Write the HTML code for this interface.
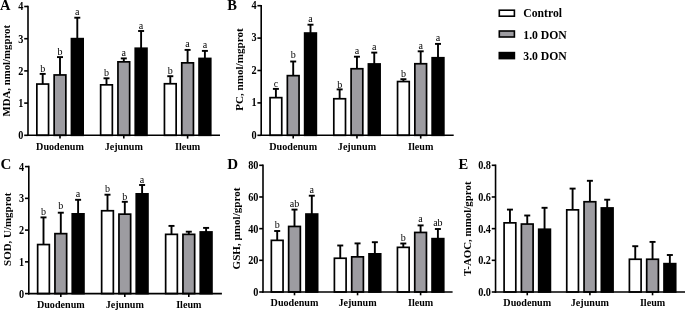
<!DOCTYPE html>
<html><head><meta charset="utf-8"><style>
html,body{margin:0;padding:0;background:#fff;}
svg{display:block;will-change:transform;}
text{font-family:"Liberation Serif",serif;fill:#000;}
</style></head><body>
<svg width="685" height="311" viewBox="0 0 685 311">
<rect width="685" height="311" fill="#fff"/>
<line x1="42.70" y1="84.20" x2="42.70" y2="73.90" stroke="#000" stroke-width="1.9"/>
<line x1="39.70" y1="73.90" x2="45.70" y2="73.90" stroke="#000" stroke-width="1.9"/>
<rect x="36.85" y="84.05" width="11.70" height="51.25" fill="#fff" stroke="#000" stroke-width="1.7"/>
<text x="42.70" y="72.30" font-size="10" font-weight="normal" text-anchor="middle" >b</text>
<line x1="60.00" y1="75.10" x2="60.00" y2="57.10" stroke="#000" stroke-width="1.9"/>
<line x1="57.00" y1="57.10" x2="63.00" y2="57.10" stroke="#000" stroke-width="1.9"/>
<rect x="54.15" y="74.95" width="11.70" height="60.35" fill="#9d9ca1" stroke="#000" stroke-width="1.7"/>
<text x="60.00" y="54.80" font-size="10" font-weight="normal" text-anchor="middle" >b</text>
<line x1="77.30" y1="38.80" x2="77.30" y2="17.70" stroke="#000" stroke-width="1.9"/>
<line x1="74.30" y1="17.70" x2="80.30" y2="17.70" stroke="#000" stroke-width="1.9"/>
<rect x="71.45" y="38.65" width="11.70" height="96.65" fill="#000" stroke="#000" stroke-width="1.7"/>
<text x="77.30" y="14.60" font-size="10" font-weight="normal" text-anchor="middle" >a</text>
<line x1="60.00" y1="135.30" x2="60.00" y2="138.60" stroke="#000" stroke-width="1.6"/>
<text x="60.00" y="149.90" font-size="10.15" font-weight="bold" text-anchor="middle" >Duodenum</text>
<line x1="106.50" y1="85.00" x2="106.50" y2="78.30" stroke="#000" stroke-width="1.9"/>
<line x1="103.50" y1="78.30" x2="109.50" y2="78.30" stroke="#000" stroke-width="1.9"/>
<rect x="100.65" y="84.85" width="11.70" height="50.45" fill="#fff" stroke="#000" stroke-width="1.7"/>
<text x="106.50" y="76.20" font-size="10" font-weight="normal" text-anchor="middle" >b</text>
<line x1="123.80" y1="62.00" x2="123.80" y2="58.40" stroke="#000" stroke-width="1.9"/>
<line x1="120.80" y1="58.40" x2="126.80" y2="58.40" stroke="#000" stroke-width="1.9"/>
<rect x="117.95" y="61.85" width="11.70" height="73.45" fill="#9d9ca1" stroke="#000" stroke-width="1.7"/>
<text x="123.80" y="55.80" font-size="10" font-weight="normal" text-anchor="middle" >a</text>
<line x1="141.10" y1="48.40" x2="141.10" y2="31.00" stroke="#000" stroke-width="1.9"/>
<line x1="138.10" y1="31.00" x2="144.10" y2="31.00" stroke="#000" stroke-width="1.9"/>
<rect x="135.25" y="48.25" width="11.70" height="87.05" fill="#000" stroke="#000" stroke-width="1.7"/>
<text x="141.10" y="29.20" font-size="10" font-weight="normal" text-anchor="middle" >a</text>
<line x1="123.80" y1="135.30" x2="123.80" y2="138.60" stroke="#000" stroke-width="1.6"/>
<text x="123.80" y="149.90" font-size="10.15" font-weight="bold" text-anchor="middle" >Jejunum</text>
<line x1="170.30" y1="83.90" x2="170.30" y2="76.20" stroke="#000" stroke-width="1.9"/>
<line x1="167.30" y1="76.20" x2="173.30" y2="76.20" stroke="#000" stroke-width="1.9"/>
<rect x="164.45" y="83.75" width="11.70" height="51.55" fill="#fff" stroke="#000" stroke-width="1.7"/>
<text x="170.30" y="73.60" font-size="10" font-weight="normal" text-anchor="middle" >b</text>
<line x1="187.60" y1="63.00" x2="187.60" y2="49.90" stroke="#000" stroke-width="1.9"/>
<line x1="184.60" y1="49.90" x2="190.60" y2="49.90" stroke="#000" stroke-width="1.9"/>
<rect x="181.75" y="62.85" width="11.70" height="72.45" fill="#9d9ca1" stroke="#000" stroke-width="1.7"/>
<text x="187.60" y="47.30" font-size="10" font-weight="normal" text-anchor="middle" >a</text>
<line x1="204.90" y1="58.60" x2="204.90" y2="50.90" stroke="#000" stroke-width="1.9"/>
<line x1="201.90" y1="50.90" x2="207.90" y2="50.90" stroke="#000" stroke-width="1.9"/>
<rect x="199.05" y="58.45" width="11.70" height="76.85" fill="#000" stroke="#000" stroke-width="1.7"/>
<text x="204.90" y="48.30" font-size="10" font-weight="normal" text-anchor="middle" >a</text>
<line x1="187.60" y1="135.30" x2="187.60" y2="138.60" stroke="#000" stroke-width="1.6"/>
<text x="187.60" y="149.90" font-size="10.15" font-weight="bold" text-anchor="middle" >Ileum</text>
<line x1="28.00" y1="5.70" x2="28.00" y2="136.10" stroke="#000" stroke-width="1.6"/>
<line x1="27.20" y1="135.30" x2="220.00" y2="135.30" stroke="#000" stroke-width="1.6"/>
<line x1="24.20" y1="135.30" x2="28.00" y2="135.30" stroke="#000" stroke-width="1.6"/>
<text transform="translate(23.40 139.20) scale(0.96 1.09)" font-size="10.7" font-weight="bold" text-anchor="end">0</text>
<line x1="24.20" y1="103.10" x2="28.00" y2="103.10" stroke="#000" stroke-width="1.6"/>
<text transform="translate(23.40 107.00) scale(0.96 1.09)" font-size="10.7" font-weight="bold" text-anchor="end">1</text>
<line x1="24.20" y1="70.90" x2="28.00" y2="70.90" stroke="#000" stroke-width="1.6"/>
<text transform="translate(23.40 74.80) scale(0.96 1.09)" font-size="10.7" font-weight="bold" text-anchor="end">2</text>
<line x1="24.20" y1="38.70" x2="28.00" y2="38.70" stroke="#000" stroke-width="1.6"/>
<text transform="translate(23.40 42.60) scale(0.96 1.09)" font-size="10.7" font-weight="bold" text-anchor="end">3</text>
<line x1="24.20" y1="6.50" x2="28.00" y2="6.50" stroke="#000" stroke-width="1.6"/>
<text transform="translate(23.40 10.40) scale(0.96 1.09)" font-size="10.7" font-weight="bold" text-anchor="end">4</text>
<text x="10.00" y="70.70" font-size="10.8" font-weight="bold" text-anchor="middle" transform="rotate(-90 10.00 70.70)">MDA, nmol/mgprot</text>
<text x="0.10" y="10.45" font-size="14.5" font-weight="bold" text-anchor="start" >A</text>
<line x1="275.90" y1="97.80" x2="275.90" y2="88.90" stroke="#000" stroke-width="1.9"/>
<line x1="272.90" y1="88.90" x2="278.90" y2="88.90" stroke="#000" stroke-width="1.9"/>
<rect x="270.05" y="97.65" width="11.70" height="37.65" fill="#fff" stroke="#000" stroke-width="1.7"/>
<text x="275.90" y="86.80" font-size="10" font-weight="normal" text-anchor="middle" >c</text>
<line x1="293.20" y1="75.80" x2="293.20" y2="61.50" stroke="#000" stroke-width="1.9"/>
<line x1="290.20" y1="61.50" x2="296.20" y2="61.50" stroke="#000" stroke-width="1.9"/>
<rect x="287.35" y="75.65" width="11.70" height="59.65" fill="#9d9ca1" stroke="#000" stroke-width="1.7"/>
<text x="293.20" y="58.00" font-size="10" font-weight="normal" text-anchor="middle" >b</text>
<line x1="310.50" y1="33.20" x2="310.50" y2="24.70" stroke="#000" stroke-width="1.9"/>
<line x1="307.50" y1="24.70" x2="313.50" y2="24.70" stroke="#000" stroke-width="1.9"/>
<rect x="304.65" y="33.05" width="11.70" height="102.25" fill="#000" stroke="#000" stroke-width="1.7"/>
<text x="310.50" y="21.70" font-size="10" font-weight="normal" text-anchor="middle" >a</text>
<line x1="293.20" y1="135.30" x2="293.20" y2="138.60" stroke="#000" stroke-width="1.6"/>
<text x="293.20" y="149.90" font-size="10.15" font-weight="bold" text-anchor="middle" >Duodenum</text>
<line x1="339.65" y1="98.90" x2="339.65" y2="89.40" stroke="#000" stroke-width="1.9"/>
<line x1="336.65" y1="89.40" x2="342.65" y2="89.40" stroke="#000" stroke-width="1.9"/>
<rect x="333.80" y="98.75" width="11.70" height="36.55" fill="#fff" stroke="#000" stroke-width="1.7"/>
<text x="339.65" y="87.70" font-size="10" font-weight="normal" text-anchor="middle" >b</text>
<line x1="356.95" y1="68.90" x2="356.95" y2="56.70" stroke="#000" stroke-width="1.9"/>
<line x1="353.95" y1="56.70" x2="359.95" y2="56.70" stroke="#000" stroke-width="1.9"/>
<rect x="351.10" y="68.75" width="11.70" height="66.55" fill="#9d9ca1" stroke="#000" stroke-width="1.7"/>
<text x="356.95" y="54.10" font-size="10" font-weight="normal" text-anchor="middle" >a</text>
<line x1="374.25" y1="64.10" x2="374.25" y2="52.60" stroke="#000" stroke-width="1.9"/>
<line x1="371.25" y1="52.60" x2="377.25" y2="52.60" stroke="#000" stroke-width="1.9"/>
<rect x="368.40" y="63.95" width="11.70" height="71.35" fill="#000" stroke="#000" stroke-width="1.7"/>
<text x="374.25" y="50.00" font-size="10" font-weight="normal" text-anchor="middle" >a</text>
<line x1="356.95" y1="135.30" x2="356.95" y2="138.60" stroke="#000" stroke-width="1.6"/>
<text x="356.95" y="149.90" font-size="10.15" font-weight="bold" text-anchor="middle" >Jejunum</text>
<line x1="403.40" y1="81.70" x2="403.40" y2="79.20" stroke="#000" stroke-width="1.9"/>
<line x1="400.40" y1="79.20" x2="406.40" y2="79.20" stroke="#000" stroke-width="1.9"/>
<rect x="397.55" y="81.55" width="11.70" height="53.75" fill="#fff" stroke="#000" stroke-width="1.7"/>
<text x="403.40" y="76.60" font-size="10" font-weight="normal" text-anchor="middle" >b</text>
<line x1="420.70" y1="63.90" x2="420.70" y2="51.30" stroke="#000" stroke-width="1.9"/>
<line x1="417.70" y1="51.30" x2="423.70" y2="51.30" stroke="#000" stroke-width="1.9"/>
<rect x="414.85" y="63.75" width="11.70" height="71.55" fill="#9d9ca1" stroke="#000" stroke-width="1.7"/>
<text x="420.70" y="48.70" font-size="10" font-weight="normal" text-anchor="middle" >a</text>
<line x1="438.00" y1="57.90" x2="438.00" y2="43.90" stroke="#000" stroke-width="1.9"/>
<line x1="435.00" y1="43.90" x2="441.00" y2="43.90" stroke="#000" stroke-width="1.9"/>
<rect x="432.15" y="57.75" width="11.70" height="77.55" fill="#000" stroke="#000" stroke-width="1.7"/>
<text x="438.00" y="41.30" font-size="10" font-weight="normal" text-anchor="middle" >a</text>
<line x1="420.70" y1="135.30" x2="420.70" y2="138.60" stroke="#000" stroke-width="1.6"/>
<text x="420.70" y="149.90" font-size="10.15" font-weight="bold" text-anchor="middle" >Ileum</text>
<line x1="261.20" y1="4.90" x2="261.20" y2="136.10" stroke="#000" stroke-width="1.6"/>
<line x1="260.40" y1="135.30" x2="453.70" y2="135.30" stroke="#000" stroke-width="1.6"/>
<line x1="257.40" y1="135.30" x2="261.20" y2="135.30" stroke="#000" stroke-width="1.6"/>
<text transform="translate(256.60 138.60) scale(0.96 1.09)" font-size="10.7" font-weight="bold" text-anchor="end">0</text>
<line x1="257.40" y1="102.90" x2="261.20" y2="102.90" stroke="#000" stroke-width="1.6"/>
<text transform="translate(256.60 106.20) scale(0.96 1.09)" font-size="10.7" font-weight="bold" text-anchor="end">1</text>
<line x1="257.40" y1="70.50" x2="261.20" y2="70.50" stroke="#000" stroke-width="1.6"/>
<text transform="translate(256.60 73.80) scale(0.96 1.09)" font-size="10.7" font-weight="bold" text-anchor="end">2</text>
<line x1="257.40" y1="38.10" x2="261.20" y2="38.10" stroke="#000" stroke-width="1.6"/>
<text transform="translate(256.60 41.40) scale(0.96 1.09)" font-size="10.7" font-weight="bold" text-anchor="end">3</text>
<line x1="257.40" y1="5.70" x2="261.20" y2="5.70" stroke="#000" stroke-width="1.6"/>
<text transform="translate(256.60 9.00) scale(0.96 1.09)" font-size="10.7" font-weight="bold" text-anchor="end">4</text>
<text x="243.00" y="69.55" font-size="11.1" font-weight="bold" text-anchor="middle" transform="rotate(-90 243.00 69.55)">PC, nmol/mgprot</text>
<text x="227.30" y="10.10" font-size="14.5" font-weight="bold" text-anchor="start" >B</text>
<line x1="43.50" y1="244.70" x2="43.50" y2="217.40" stroke="#000" stroke-width="1.9"/>
<line x1="40.50" y1="217.40" x2="46.50" y2="217.40" stroke="#000" stroke-width="1.9"/>
<rect x="37.65" y="244.55" width="11.70" height="49.05" fill="#fff" stroke="#000" stroke-width="1.7"/>
<text x="43.50" y="214.80" font-size="10" font-weight="normal" text-anchor="middle" >b</text>
<line x1="60.80" y1="233.80" x2="60.80" y2="212.70" stroke="#000" stroke-width="1.9"/>
<line x1="57.80" y1="212.70" x2="63.80" y2="212.70" stroke="#000" stroke-width="1.9"/>
<rect x="54.95" y="233.65" width="11.70" height="59.95" fill="#9d9ca1" stroke="#000" stroke-width="1.7"/>
<text x="60.80" y="209.20" font-size="10" font-weight="normal" text-anchor="middle" >b</text>
<line x1="78.10" y1="214.00" x2="78.10" y2="199.80" stroke="#000" stroke-width="1.9"/>
<line x1="75.10" y1="199.80" x2="81.10" y2="199.80" stroke="#000" stroke-width="1.9"/>
<rect x="72.25" y="213.85" width="11.70" height="79.75" fill="#000" stroke="#000" stroke-width="1.7"/>
<text x="78.10" y="197.20" font-size="10" font-weight="normal" text-anchor="middle" >a</text>
<line x1="60.80" y1="293.60" x2="60.80" y2="296.90" stroke="#000" stroke-width="1.6"/>
<text x="60.80" y="308.20" font-size="10.15" font-weight="bold" text-anchor="middle" >Duodenum</text>
<line x1="107.50" y1="210.90" x2="107.50" y2="194.70" stroke="#000" stroke-width="1.9"/>
<line x1="104.50" y1="194.70" x2="110.50" y2="194.70" stroke="#000" stroke-width="1.9"/>
<rect x="101.65" y="210.75" width="11.70" height="82.85" fill="#fff" stroke="#000" stroke-width="1.7"/>
<text x="107.50" y="192.10" font-size="10" font-weight="normal" text-anchor="middle" >b</text>
<line x1="124.80" y1="214.30" x2="124.80" y2="201.80" stroke="#000" stroke-width="1.9"/>
<line x1="121.80" y1="201.80" x2="127.80" y2="201.80" stroke="#000" stroke-width="1.9"/>
<rect x="118.95" y="214.15" width="11.70" height="79.45" fill="#9d9ca1" stroke="#000" stroke-width="1.7"/>
<text x="124.80" y="199.70" font-size="10" font-weight="normal" text-anchor="middle" >b</text>
<line x1="142.10" y1="194.00" x2="142.10" y2="185.00" stroke="#000" stroke-width="1.9"/>
<line x1="139.10" y1="185.00" x2="145.10" y2="185.00" stroke="#000" stroke-width="1.9"/>
<rect x="136.25" y="193.85" width="11.70" height="99.75" fill="#000" stroke="#000" stroke-width="1.7"/>
<text x="142.10" y="182.80" font-size="10" font-weight="normal" text-anchor="middle" >a</text>
<line x1="124.80" y1="293.60" x2="124.80" y2="296.90" stroke="#000" stroke-width="1.6"/>
<text x="124.80" y="308.20" font-size="10.15" font-weight="bold" text-anchor="middle" >Jejunum</text>
<line x1="171.50" y1="234.50" x2="171.50" y2="225.90" stroke="#000" stroke-width="1.9"/>
<line x1="168.50" y1="225.90" x2="174.50" y2="225.90" stroke="#000" stroke-width="1.9"/>
<rect x="165.65" y="234.35" width="11.70" height="59.25" fill="#fff" stroke="#000" stroke-width="1.7"/>
<line x1="188.80" y1="234.50" x2="188.80" y2="231.70" stroke="#000" stroke-width="1.9"/>
<line x1="185.80" y1="231.70" x2="191.80" y2="231.70" stroke="#000" stroke-width="1.9"/>
<rect x="182.95" y="234.35" width="11.70" height="59.25" fill="#9d9ca1" stroke="#000" stroke-width="1.7"/>
<line x1="206.10" y1="232.10" x2="206.10" y2="227.90" stroke="#000" stroke-width="1.9"/>
<line x1="203.10" y1="227.90" x2="209.10" y2="227.90" stroke="#000" stroke-width="1.9"/>
<rect x="200.25" y="231.95" width="11.70" height="61.65" fill="#000" stroke="#000" stroke-width="1.7"/>
<line x1="188.80" y1="293.60" x2="188.80" y2="296.90" stroke="#000" stroke-width="1.6"/>
<text x="188.80" y="308.20" font-size="10.15" font-weight="bold" text-anchor="middle" >Ileum</text>
<line x1="28.80" y1="165.80" x2="28.80" y2="294.40" stroke="#000" stroke-width="1.6"/>
<line x1="28.00" y1="293.60" x2="221.90" y2="293.60" stroke="#000" stroke-width="1.6"/>
<line x1="25.00" y1="293.60" x2="28.80" y2="293.60" stroke="#000" stroke-width="1.6"/>
<text transform="translate(24.20 297.50) scale(0.96 1.09)" font-size="10.7" font-weight="bold" text-anchor="end">0</text>
<line x1="25.00" y1="261.85" x2="28.80" y2="261.85" stroke="#000" stroke-width="1.6"/>
<text transform="translate(24.20 265.75) scale(0.96 1.09)" font-size="10.7" font-weight="bold" text-anchor="end">1</text>
<line x1="25.00" y1="230.10" x2="28.80" y2="230.10" stroke="#000" stroke-width="1.6"/>
<text transform="translate(24.20 234.00) scale(0.96 1.09)" font-size="10.7" font-weight="bold" text-anchor="end">2</text>
<line x1="25.00" y1="198.35" x2="28.80" y2="198.35" stroke="#000" stroke-width="1.6"/>
<text transform="translate(24.20 202.25) scale(0.96 1.09)" font-size="10.7" font-weight="bold" text-anchor="end">3</text>
<line x1="25.00" y1="166.60" x2="28.80" y2="166.60" stroke="#000" stroke-width="1.6"/>
<text transform="translate(24.20 170.50) scale(0.96 1.09)" font-size="10.7" font-weight="bold" text-anchor="end">4</text>
<text x="10.80" y="229.25" font-size="10.95" font-weight="bold" text-anchor="middle" transform="rotate(-90 10.80 229.25)">SOD, U/mgprot</text>
<text x="0.50" y="168.70" font-size="15" font-weight="bold" text-anchor="start" >C</text>
<line x1="277.20" y1="240.50" x2="277.20" y2="231.00" stroke="#000" stroke-width="1.9"/>
<line x1="274.20" y1="231.00" x2="280.20" y2="231.00" stroke="#000" stroke-width="1.9"/>
<rect x="271.35" y="240.35" width="11.70" height="51.65" fill="#fff" stroke="#000" stroke-width="1.7"/>
<text x="277.20" y="228.40" font-size="10" font-weight="normal" text-anchor="middle" >b</text>
<line x1="294.50" y1="226.60" x2="294.50" y2="209.60" stroke="#000" stroke-width="1.9"/>
<line x1="291.50" y1="209.60" x2="297.50" y2="209.60" stroke="#000" stroke-width="1.9"/>
<rect x="288.65" y="226.45" width="11.70" height="65.55" fill="#9d9ca1" stroke="#000" stroke-width="1.7"/>
<text x="294.50" y="207.00" font-size="10" font-weight="normal" text-anchor="middle" >ab</text>
<line x1="311.80" y1="214.20" x2="311.80" y2="195.70" stroke="#000" stroke-width="1.9"/>
<line x1="308.80" y1="195.70" x2="314.80" y2="195.70" stroke="#000" stroke-width="1.9"/>
<rect x="305.95" y="214.05" width="11.70" height="77.95" fill="#000" stroke="#000" stroke-width="1.7"/>
<text x="311.80" y="193.10" font-size="10" font-weight="normal" text-anchor="middle" >a</text>
<line x1="294.50" y1="292.00" x2="294.50" y2="295.30" stroke="#000" stroke-width="1.6"/>
<text x="294.50" y="306.30" font-size="10.15" font-weight="bold" text-anchor="middle" >Duodenum</text>
<line x1="340.25" y1="258.40" x2="340.25" y2="245.50" stroke="#000" stroke-width="1.9"/>
<line x1="337.25" y1="245.50" x2="343.25" y2="245.50" stroke="#000" stroke-width="1.9"/>
<rect x="334.40" y="258.25" width="11.70" height="33.75" fill="#fff" stroke="#000" stroke-width="1.7"/>
<line x1="357.55" y1="257.00" x2="357.55" y2="243.40" stroke="#000" stroke-width="1.9"/>
<line x1="354.55" y1="243.40" x2="360.55" y2="243.40" stroke="#000" stroke-width="1.9"/>
<rect x="351.70" y="256.85" width="11.70" height="35.15" fill="#9d9ca1" stroke="#000" stroke-width="1.7"/>
<line x1="374.85" y1="254.00" x2="374.85" y2="242.20" stroke="#000" stroke-width="1.9"/>
<line x1="371.85" y1="242.20" x2="377.85" y2="242.20" stroke="#000" stroke-width="1.9"/>
<rect x="369.00" y="253.85" width="11.70" height="38.15" fill="#000" stroke="#000" stroke-width="1.7"/>
<line x1="357.55" y1="292.00" x2="357.55" y2="295.30" stroke="#000" stroke-width="1.6"/>
<text x="357.55" y="306.30" font-size="10.15" font-weight="bold" text-anchor="middle" >Jejunum</text>
<line x1="403.30" y1="247.50" x2="403.30" y2="243.50" stroke="#000" stroke-width="1.9"/>
<line x1="400.30" y1="243.50" x2="406.30" y2="243.50" stroke="#000" stroke-width="1.9"/>
<rect x="397.45" y="247.35" width="11.70" height="44.65" fill="#fff" stroke="#000" stroke-width="1.7"/>
<text x="403.30" y="241.00" font-size="10" font-weight="normal" text-anchor="middle" >b</text>
<line x1="420.60" y1="232.60" x2="420.60" y2="225.40" stroke="#000" stroke-width="1.9"/>
<line x1="417.60" y1="225.40" x2="423.60" y2="225.40" stroke="#000" stroke-width="1.9"/>
<rect x="414.75" y="232.45" width="11.70" height="59.55" fill="#9d9ca1" stroke="#000" stroke-width="1.7"/>
<text x="420.60" y="221.50" font-size="10" font-weight="normal" text-anchor="middle" >a</text>
<line x1="437.90" y1="238.80" x2="437.90" y2="229.00" stroke="#000" stroke-width="1.9"/>
<line x1="434.90" y1="229.00" x2="440.90" y2="229.00" stroke="#000" stroke-width="1.9"/>
<rect x="432.05" y="238.65" width="11.70" height="53.35" fill="#000" stroke="#000" stroke-width="1.7"/>
<text x="437.90" y="225.50" font-size="10" font-weight="normal" text-anchor="middle" >ab</text>
<line x1="420.60" y1="292.00" x2="420.60" y2="295.30" stroke="#000" stroke-width="1.6"/>
<text x="420.60" y="306.30" font-size="10.15" font-weight="bold" text-anchor="middle" >Ileum</text>
<line x1="263.00" y1="164.50" x2="263.00" y2="292.80" stroke="#000" stroke-width="1.6"/>
<line x1="262.20" y1="292.00" x2="452.60" y2="292.00" stroke="#000" stroke-width="1.6"/>
<line x1="259.20" y1="292.00" x2="263.00" y2="292.00" stroke="#000" stroke-width="1.6"/>
<text transform="translate(258.40 295.90) scale(0.96 1.09)" font-size="10.7" font-weight="bold" text-anchor="end">0</text>
<line x1="259.20" y1="260.32" x2="263.00" y2="260.32" stroke="#000" stroke-width="1.6"/>
<text transform="translate(258.40 264.22) scale(0.96 1.09)" font-size="10.7" font-weight="bold" text-anchor="end">20</text>
<line x1="259.20" y1="228.65" x2="263.00" y2="228.65" stroke="#000" stroke-width="1.6"/>
<text transform="translate(258.40 232.55) scale(0.96 1.09)" font-size="10.7" font-weight="bold" text-anchor="end">40</text>
<line x1="259.20" y1="196.98" x2="263.00" y2="196.98" stroke="#000" stroke-width="1.6"/>
<text transform="translate(258.40 200.88) scale(0.96 1.09)" font-size="10.7" font-weight="bold" text-anchor="end">60</text>
<line x1="259.20" y1="165.30" x2="263.00" y2="165.30" stroke="#000" stroke-width="1.6"/>
<text transform="translate(258.40 169.20) scale(0.96 1.09)" font-size="10.7" font-weight="bold" text-anchor="end">80</text>
<text x="240.00" y="228.55" font-size="11.1" font-weight="bold" text-anchor="middle" transform="rotate(-90 240.00 228.55)">GSH, μmol/gprot</text>
<text x="227.20" y="168.60" font-size="15" font-weight="bold" text-anchor="start" >D</text>
<line x1="509.95" y1="223.00" x2="509.95" y2="209.60" stroke="#000" stroke-width="1.9"/>
<line x1="506.95" y1="209.60" x2="512.95" y2="209.60" stroke="#000" stroke-width="1.9"/>
<rect x="504.10" y="222.85" width="11.70" height="69.15" fill="#fff" stroke="#000" stroke-width="1.7"/>
<line x1="527.25" y1="224.20" x2="527.25" y2="215.50" stroke="#000" stroke-width="1.9"/>
<line x1="524.25" y1="215.50" x2="530.25" y2="215.50" stroke="#000" stroke-width="1.9"/>
<rect x="521.40" y="224.05" width="11.70" height="67.95" fill="#9d9ca1" stroke="#000" stroke-width="1.7"/>
<line x1="544.55" y1="229.40" x2="544.55" y2="207.80" stroke="#000" stroke-width="1.9"/>
<line x1="541.55" y1="207.80" x2="547.55" y2="207.80" stroke="#000" stroke-width="1.9"/>
<rect x="538.70" y="229.25" width="11.70" height="62.75" fill="#000" stroke="#000" stroke-width="1.7"/>
<line x1="527.25" y1="292.00" x2="527.25" y2="295.30" stroke="#000" stroke-width="1.6"/>
<text x="527.25" y="306.00" font-size="10.15" font-weight="bold" text-anchor="middle" >Duodenum</text>
<line x1="572.60" y1="210.00" x2="572.60" y2="188.60" stroke="#000" stroke-width="1.9"/>
<line x1="569.60" y1="188.60" x2="575.60" y2="188.60" stroke="#000" stroke-width="1.9"/>
<rect x="566.75" y="209.85" width="11.70" height="82.15" fill="#fff" stroke="#000" stroke-width="1.7"/>
<line x1="589.90" y1="201.90" x2="589.90" y2="180.80" stroke="#000" stroke-width="1.9"/>
<line x1="586.90" y1="180.80" x2="592.90" y2="180.80" stroke="#000" stroke-width="1.9"/>
<rect x="584.05" y="201.75" width="11.70" height="90.25" fill="#9d9ca1" stroke="#000" stroke-width="1.7"/>
<line x1="607.20" y1="208.10" x2="607.20" y2="199.70" stroke="#000" stroke-width="1.9"/>
<line x1="604.20" y1="199.70" x2="610.20" y2="199.70" stroke="#000" stroke-width="1.9"/>
<rect x="601.35" y="207.95" width="11.70" height="84.05" fill="#000" stroke="#000" stroke-width="1.7"/>
<line x1="589.90" y1="292.00" x2="589.90" y2="295.30" stroke="#000" stroke-width="1.6"/>
<text x="589.90" y="306.00" font-size="10.15" font-weight="bold" text-anchor="middle" >Jejunum</text>
<line x1="635.25" y1="259.40" x2="635.25" y2="246.20" stroke="#000" stroke-width="1.9"/>
<line x1="632.25" y1="246.20" x2="638.25" y2="246.20" stroke="#000" stroke-width="1.9"/>
<rect x="629.40" y="259.25" width="11.70" height="32.75" fill="#fff" stroke="#000" stroke-width="1.7"/>
<line x1="652.55" y1="259.40" x2="652.55" y2="241.90" stroke="#000" stroke-width="1.9"/>
<line x1="649.55" y1="241.90" x2="655.55" y2="241.90" stroke="#000" stroke-width="1.9"/>
<rect x="646.70" y="259.25" width="11.70" height="32.75" fill="#9d9ca1" stroke="#000" stroke-width="1.7"/>
<line x1="669.85" y1="263.80" x2="669.85" y2="255.00" stroke="#000" stroke-width="1.9"/>
<line x1="666.85" y1="255.00" x2="672.85" y2="255.00" stroke="#000" stroke-width="1.9"/>
<rect x="664.00" y="263.65" width="11.70" height="28.35" fill="#000" stroke="#000" stroke-width="1.7"/>
<line x1="652.55" y1="292.00" x2="652.55" y2="295.30" stroke="#000" stroke-width="1.6"/>
<text x="652.55" y="306.00" font-size="10.15" font-weight="bold" text-anchor="middle" >Ileum</text>
<line x1="495.55" y1="164.50" x2="495.55" y2="292.80" stroke="#000" stroke-width="1.6"/>
<line x1="494.75" y1="292.00" x2="685.55" y2="292.00" stroke="#000" stroke-width="1.6"/>
<line x1="491.75" y1="292.00" x2="495.55" y2="292.00" stroke="#000" stroke-width="1.6"/>
<text transform="translate(490.95 295.90) scale(0.96 1.09)" font-size="10.7" font-weight="bold" text-anchor="end">0.0</text>
<line x1="491.75" y1="260.32" x2="495.55" y2="260.32" stroke="#000" stroke-width="1.6"/>
<text transform="translate(490.95 264.22) scale(0.96 1.09)" font-size="10.7" font-weight="bold" text-anchor="end">0.2</text>
<line x1="491.75" y1="228.65" x2="495.55" y2="228.65" stroke="#000" stroke-width="1.6"/>
<text transform="translate(490.95 232.55) scale(0.96 1.09)" font-size="10.7" font-weight="bold" text-anchor="end">0.4</text>
<line x1="491.75" y1="196.98" x2="495.55" y2="196.98" stroke="#000" stroke-width="1.6"/>
<text transform="translate(490.95 200.88) scale(0.96 1.09)" font-size="10.7" font-weight="bold" text-anchor="end">0.6</text>
<line x1="491.75" y1="165.30" x2="495.55" y2="165.30" stroke="#000" stroke-width="1.6"/>
<text transform="translate(490.95 169.20) scale(0.96 1.09)" font-size="10.7" font-weight="bold" text-anchor="end">0.8</text>
<text x="470.50" y="228.75" font-size="10.92" font-weight="bold" text-anchor="middle" transform="rotate(-90 470.50 228.75)">T-AOC, mmol/gprot</text>
<text x="458.50" y="168.60" font-size="14.6" font-weight="bold" text-anchor="start" >E</text>
<rect x="499.30" y="10.20" width="15.10" height="6.00" fill="#fff" stroke="#000" stroke-width="1.6"/>
<text x="523.30" y="17.10" font-size="11.7" font-weight="bold" text-anchor="start" >Control</text>
<rect x="499.30" y="31.00" width="15.10" height="6.00" fill="#9d9ca1" stroke="#000" stroke-width="1.6"/>
<text x="523.30" y="38.70" font-size="11.7" font-weight="bold" text-anchor="start" >1.0 DON</text>
<rect x="499.30" y="52.60" width="15.10" height="6.00" fill="#000" stroke="#000" stroke-width="1.6"/>
<text x="523.30" y="60.30" font-size="11.7" font-weight="bold" text-anchor="start" >3.0 DON</text>
</svg>
</body></html>
